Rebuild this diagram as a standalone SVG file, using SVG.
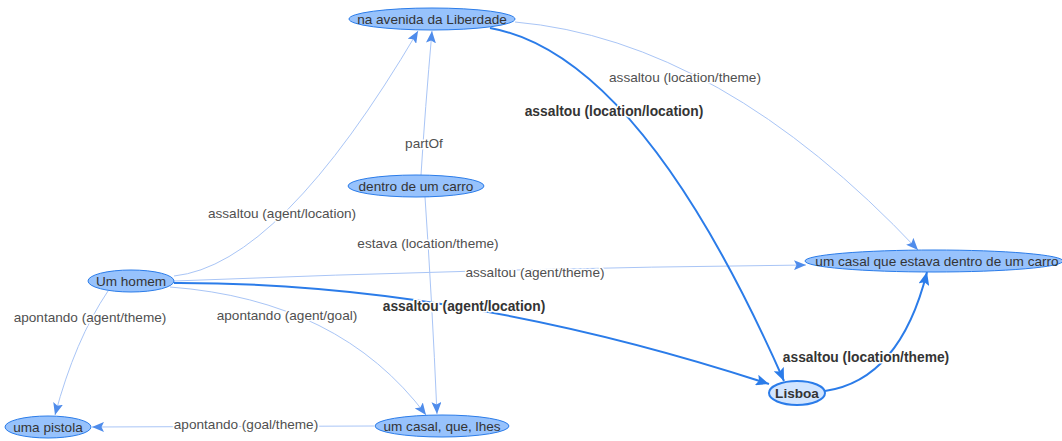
<svg xmlns="http://www.w3.org/2000/svg" width="1062" height="441" viewBox="0 0 1062 441">
<style>
.node ellipse{fill:#97c2fc;stroke:#2b7ce9;stroke-width:1}
.node.sel ellipse{fill:#d2e5ff;stroke:#2b7ce9;stroke-width:2}
.node text{font-family:"Liberation Sans",Arial,sans-serif;font-size:13.6px;fill:#343434;text-anchor:middle}
.node.sel text{font-weight:bold}
.e{fill:none;stroke:#a9c5f6;stroke-width:1}
.e.b{stroke:#2b7ce9;stroke-width:2}
.lbl{font-family:"Liberation Sans",Arial,sans-serif;font-size:13.6px;fill:#505050;text-anchor:middle;stroke:#fff;stroke-width:3;paint-order:stroke;stroke-linejoin:round}
.lbl.b{font-weight:bold;fill:#343434;font-size:13.8px}
</style>
<defs>
<marker id="al" markerUnits="userSpaceOnUse" markerWidth="12" markerHeight="10" refX="12" refY="5" orient="auto"><path d="M0,0 L12,5 L0,10 L2.5,5 z" fill="#4f8ceb"/></marker>
<marker id="ab" markerUnits="userSpaceOnUse" markerWidth="13" markerHeight="11" refX="13" refY="5.5" orient="auto"><path d="M0,0 L13,5.5 L0,11 L2.5,5.5 z" fill="#2b7ce9"/></marker>
</defs>
<rect width="1062" height="441" fill="#fff"/>
<g id="connectors">
<path class="e" d="M174,276 Q280,265 418,31" marker-end="url(#al)"/>
<path class="e" d="M421,175 Q425,110 432,31" marker-end="url(#al)"/>
<path class="e" d="M425,197 Q432,300 437,414" marker-end="url(#al)"/>
<path class="e" d="M174,281 Q500,268 806,265" marker-end="url(#al)"/>
<path class="e" d="M108,291 Q75,340 55,415" marker-end="url(#al)"/>
<path class="e" d="M170,287 Q340,300 426,415" marker-end="url(#al)"/>
<path class="e" d="M374,426 L92,427" marker-end="url(#al)"/>
<path class="e" d="M515,22 Q720,40 918,250" marker-end="url(#al)"/>
<path class="e b" d="M174,283 Q457,282 769,384" marker-end="url(#ab)"/>
<path class="e b" d="M490,28 Q640,55 784,381" marker-end="url(#ab)"/>
<path class="e b" d="M825,391 Q900,380 927,272" marker-end="url(#ab)"/>
<text class="lbl" x="282" y="218">assaltou (agent/location)</text>
<text class="lbl" x="424" y="148">partOf</text>
<text class="lbl" x="428" y="248">estava (location/theme)</text>
<text class="lbl" x="535" y="277">assaltou (agent/theme)</text>
<text class="lbl" x="90" y="322">apontando (agent/theme)</text>
<text class="lbl" x="287" y="320">apontando (agent/goal)</text>
<text class="lbl" x="246" y="429">apontando (goal/theme)</text>
<text class="lbl" x="685" y="82">assaltou (location/theme)</text>
<text class="lbl b" x="464" y="311">assaltou (agent/location)</text>
<text class="lbl b" x="614" y="116">assaltou (location/location)</text>
<text class="lbl b" x="866" y="362">assaltou (location/theme)</text>
</g>
<g id="n-avenida" class="node"><ellipse cx="432" cy="19" rx="83" ry="11"/><text x="432" y="23.5">na avenida da Liberdade</text></g>
<g id="n-dentro" class="node"><ellipse cx="416" cy="186" rx="68" ry="11"/><text x="416" y="190.5">dentro de um carro</text></g>
<g id="n-homem" class="node"><ellipse cx="131" cy="281" rx="43" ry="11"/><text x="131" y="285.5">Um homem</text></g>
<g id="n-pistola" class="node"><ellipse cx="48" cy="427" rx="43" ry="11"/><text x="48" y="431.5">uma pistola</text></g>
<g id="n-casal-lhes" class="node"><ellipse cx="442" cy="426" rx="67" ry="11"/><text x="442" y="430.5">um casal, que, lhes</text></g>
<g id="n-lisboa" class="node sel"><ellipse cx="797" cy="393" rx="28" ry="12"/><text x="797" y="397.5">Lisboa</text></g>
<g id="n-casal-carro" class="node"><ellipse cx="934" cy="261" rx="129" ry="11"/><text x="937" y="265.5">um casal que estava dentro de um carro</text></g>
</svg>
